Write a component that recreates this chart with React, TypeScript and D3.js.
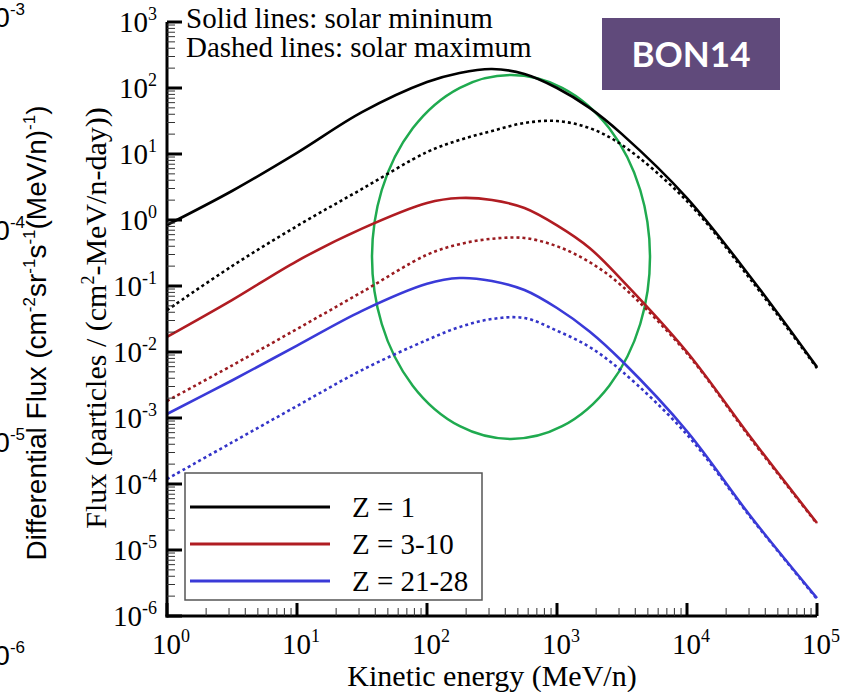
import React from 'react';
import * as d3 from 'd3';

// kinetic energy sample points (MeV/n)
const energies = [1, 3.16, 10, 31.6, 100, 178, 316, 562, 1000, 1780, 3160, 10000, 31600, 100000];

// Z = 1
const z1Min = [0.84, 2.75, 10.4, 43, 123, 169, 194, 163, 100, 50, 20, 2.15, 0.128, 0.0059];
const z1Max = [0.043, 0.2, 0.81, 2.95, 10.7, 16.3, 22.3, 29.5, 31.6, 24.7, 13.7, 1.93, 0.118, 0.0057];
// Z = 3-10
const z3Min = [0.0169, 0.061, 0.239, 0.74, 1.81, 2.15, 2.01, 1.52, 0.83, 0.377, 0.123, 0.01, 4.8e-4, 2.56e-5];
const z3Max = [0.00181, 0.00624, 0.0223, 0.081, 0.297, 0.43, 0.52, 0.533, 0.4, 0.23, 0.1, 0.0095, 4.6e-4, 2.5e-5];
// Z = 21-28
const z21Min = [0.00115, 0.0037, 0.0125, 0.042, 0.108, 0.132, 0.119, 0.087, 0.0464, 0.0205, 0.0073, 6.3e-4, 3.05e-5, 1.87e-6];
const z21Max = [1.19e-4, 4.26e-4, 0.00152, 0.00533, 0.0152, 0.0239, 0.0316, 0.0327, 0.021, 0.0119, 0.0051, 5.6e-4, 2.95e-5, 1.81e-6];

const legendLabels = ['Z = 1', 'Z = 3-10', 'Z = 21-28'];
const xTickExps = [0, 1, 2, 3, 4, 5];
const yTickExps = [3, 2, 1, 0, -1, -2, -3, -4, -5, -6];
const leftTickExps = [-3, -4, -5, -6];

const serif = "'Liberation Serif', 'Times New Roman', serif";
const sans = "'Liberation Sans', Arial, sans-serif";

const colors = ['#000000', '#b01c22', '#3a3ad8'];

const series = [
    { vals: z1Max, color: colors[0], dashed: true },
    { vals: z3Max, color: '#9a1b20', dashed: true },
    { vals: z21Max, color: '#3434c8', dashed: true },
    { vals: z1Min, color: colors[0], dashed: false },
    { vals: z3Min, color: colors[1], dashed: false },
    { vals: z21Min, color: colors[2], dashed: false },
];

const App = () => {
    const width = 844;
    const height = 692;
    const x = d3.scaleLog().domain([1, 1e5]).range([167, 817]);
    const y = d3.scaleLog().domain([1e-6, 1e3]).range([616, 22]);
    // cut-off neighbouring chart on the left
    const yLeft = d3.scaleLog().domain([1e-6, 1e-3]).range([655, 17]);

    const line = d3
        .line<[number, number]>()
        .x((d) => x(d[0]))
        .y((d) => y(d[1]))
        .curve(d3.curveCatmullRom.alpha(0.5));

    const minor = (lo: number, hi: number) => {
        const out: number[] = [];
        for (let e = lo; e < hi; e++) {
            for (let k = 2; k <= 9; k++) out.push(k * Math.pow(10, e));
        }
        return out;
    };
    const xMinor = minor(0, 5);
    const yMinor = minor(-6, 3);

    return (
        <svg width={width} height={height} style={{ position: 'absolute', left: 0, top: 0, background: '#fff' }}>
            {/* left cut-off axis */}
            {leftTickExps.map((e) => (
                <text key={e} x={25} y={yLeft(Math.pow(10, e)) + 10} textAnchor="end" fontFamily={sans} fontSize={28}>
                    10<tspan dy={-12} fontSize={17}>{e}</tspan>
                </text>
            ))}
            <text transform="translate(46,333) rotate(-90)" textAnchor="middle" fontFamily={sans} fontSize={28}>
                Differential Flux (cm<tspan dy={-11} fontSize={17}>-2</tspan>
                <tspan dy={11}>sr</tspan><tspan dy={-11} fontSize={17}>-1</tspan>
                <tspan dy={11}>s</tspan><tspan dy={-11} fontSize={17}>-1</tspan>
                <tspan dy={11}>(MeV/n)</tspan><tspan dy={-11} fontSize={17}>-1</tspan>
                <tspan dy={11}>)</tspan>
            </text>

            {/* highlight ellipse */}
            <ellipse cx={511} cy={257} rx={139} ry={182} fill="none" stroke="#1faa4f" strokeWidth={2.5} />

            {/* curves */}
            {series.map((s, i) => (
                <path
                    key={i}
                    d={line(energies.map((e, j) => [e, s.vals[j]] as [number, number])) || ''}
                    fill="none"
                    stroke={s.color}
                    strokeWidth={2.6}
                    strokeDasharray={s.dashed ? '3,3' : undefined}
                />
            ))}

            {/* axes */}
            <line x1={167} x2={167} y1={22} y2={617.5} stroke="#000" strokeWidth={3} />
            <line x1={165.5} x2={817} y1={616} y2={616} stroke="#000" strokeWidth={3} />
            {yTickExps.map((e) => (
                <line key={e} x1={167} x2={182} y1={y(Math.pow(10, e))} y2={y(Math.pow(10, e))} stroke="#000" strokeWidth={3} />
            ))}
            {yMinor.map((v, i) => (
                <line key={i} x1={167} x2={175} y1={y(v)} y2={y(v)} stroke="#333" strokeWidth={1} />
            ))}
            {xTickExps.map((e) => (
                <line key={e} x1={x(Math.pow(10, e))} x2={x(Math.pow(10, e))} y1={616} y2={603} stroke="#000" strokeWidth={3} />
            ))}
            {xMinor.map((v, i) => (
                <line key={i} x1={x(v)} x2={x(v)} y1={616} y2={608} stroke="#333" strokeWidth={1} />
            ))}

            {yTickExps.map((e) => (
                <text key={e} x={157} y={y(Math.pow(10, e)) + 10} textAnchor="end" fontFamily={serif} fontSize={29}>
                    10<tspan dy={-12} fontSize={18}>{e}</tspan>
                </text>
            ))}
            {xTickExps.map((e) => (
                <text key={e} x={x(Math.pow(10, e)) + 4} y={654} textAnchor="middle" fontFamily={serif} fontSize={29}>
                    10<tspan dy={-12} fontSize={18}>{e}</tspan>
                </text>
            ))}

            <text x={492} y={686} textAnchor="middle" fontFamily={serif} fontSize={30}>
                Kinetic energy (MeV/n)
            </text>
            <text transform="translate(106,318) rotate(-90)" textAnchor="middle" fontFamily={serif} fontSize={30}>
                Flux (particles / (cm<tspan dy={-12} fontSize={18}>2</tspan>
                <tspan dy={12}>-MeV/n-day))</tspan>
            </text>

            <text x={186} y={28} fontFamily={serif} fontSize={29}>Solid lines: solar mininum</text>
            <text x={186} y={57} fontFamily={serif} fontSize={29}>Dashed lines: solar maximum</text>

            {/* legend */}
            <rect x={185} y={473} width={297} height={127} fill="#fff" stroke="#555" strokeWidth={1.5} />
            {legendLabels.map((lab, i) => (
                <g key={lab}>
                    <line x1={190} x2={330} y1={507 + i * 37} y2={507 + i * 37} stroke={colors[i]} strokeWidth={3} />
                    <text x={352} y={517 + i * 37} fontFamily={serif} fontSize={29}>{lab}</text>
                </g>
            ))}

            {/* tag */}
            <rect x={602} y={18} width={178} height={72} fill="#604a7b" />
            <text x={691} y={67} textAnchor="middle" fontFamily="Lato, 'Open Sans', sans-serif" fontWeight="bold" fontSize={35} fill="#fff">
                BON14
            </text>
        </svg>
    );
};

export default App;
